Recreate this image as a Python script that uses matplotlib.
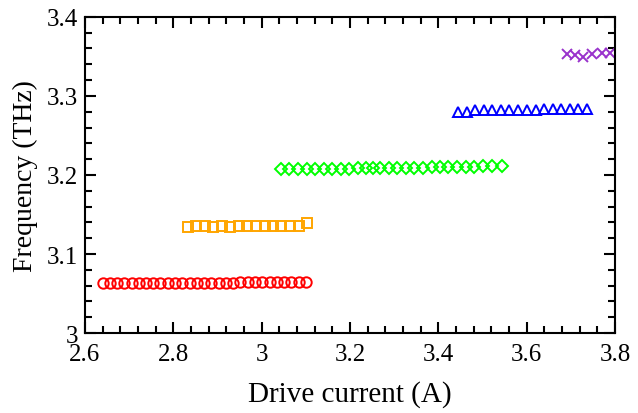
import numpy as np
import matplotlib
matplotlib.use("Agg")
import matplotlib.pyplot as plt
from matplotlib.ticker import MultipleLocator

# red circles
x_red = [2.640, 2.656, 2.673, 2.689, 2.706, 2.722, 2.739, 2.755, 2.771, 2.788,
         2.804, 2.821, 2.837, 2.854, 2.870, 2.886, 2.903, 2.919, 2.936, 2.952,
         2.969, 2.985, 3.001, 3.018, 3.034, 3.051, 3.067, 3.084, 3.100]
y_red = [3.063, 3.063, 3.063, 3.063, 3.063, 3.063, 3.063, 3.063, 3.063, 3.063,
         3.063, 3.063, 3.063, 3.063, 3.063, 3.063, 3.063, 3.063, 3.063, 3.064,
         3.064, 3.064, 3.064, 3.064, 3.064, 3.064, 3.064, 3.064, 3.064]

# orange squares
x_orange = [2.833, 2.852, 2.872, 2.891, 2.910, 2.929, 2.949, 2.968, 2.987, 3.007,
            3.026, 3.045, 3.064, 3.084, 3.103]
y_orange = [3.134, 3.135, 3.135, 3.134, 3.136, 3.134, 3.135, 3.135, 3.136, 3.135,
            3.135, 3.135, 3.135, 3.135, 3.139]

# green diamonds
x_green = [3.044, 3.063, 3.082, 3.102, 3.121, 3.141, 3.160, 3.179, 3.198, 3.218,
           3.237, 3.253, 3.268, 3.288, 3.307, 3.326, 3.346, 3.365, 3.385, 3.404,
           3.423, 3.443, 3.462, 3.481, 3.501, 3.522, 3.544]
y_green = [3.208, 3.208, 3.208, 3.208, 3.208, 3.208, 3.208, 3.208, 3.208, 3.209,
           3.209, 3.209, 3.209, 3.209, 3.209, 3.209, 3.209, 3.209, 3.210, 3.210,
           3.210, 3.210, 3.210, 3.210, 3.211, 3.211, 3.211]

# blue triangles
x_blue = [3.444, 3.464, 3.483, 3.503, 3.522, 3.542, 3.561, 3.581, 3.600, 3.620,
          3.639, 3.659, 3.678, 3.698, 3.717, 3.737]
y_blue = [3.280, 3.280, 3.282, 3.282, 3.282, 3.282, 3.282, 3.282, 3.282, 3.282,
          3.283, 3.283, 3.283, 3.284, 3.283, 3.283]

# purple crosses
x_purple = [3.691, 3.709, 3.727, 3.748, 3.770, 3.789]
y_purple = [3.353, 3.352, 3.349, 3.353, 3.354, 3.354]

plt.rcParams['font.family'] = ['Liberation Serif', 'DejaVu Serif']

fig = plt.figure(figsize=(6.38, 4.14), dpi=100)
ax = fig.add_axes([0.133, 0.193, 0.831, 0.764])

mew = 1.4
ax.plot(x_red, y_red, 'o', mfc='none', mec='#ff0000', ms=7.5, mew=mew)
ax.plot(x_orange, y_orange, 's', mfc='none', mec='#ffa500', ms=7.5, mew=mew)
ax.plot(x_green, y_green, 'D', mfc='none', mec='#00ff00', ms=6, mew=mew)
ax.plot(x_blue, y_blue, '^', mfc='none', mec='#0000ff', ms=7.5, mew=mew)
ax.plot(x_purple, y_purple, 'x', color='#9932cc', ms=7, mew=mew)

ax.set_xlim(2.6, 3.8)
ax.set_ylim(3.0, 3.4)
ax.xaxis.set_minor_locator(MultipleLocator(0.04))
ax.yaxis.set_minor_locator(MultipleLocator(0.02))
ax.set_xticks([2.6, 2.8, 3.0, 3.2, 3.4, 3.6, 3.8])
ax.set_xticklabels(['2.6', '2.8', '3', '3.2', '3.4', '3.6', '3.8'])
ax.set_yticks([3.0, 3.1, 3.2, 3.3, 3.4])
ax.set_yticklabels(['3', '3.1', '3.2', '3.3', '3.4'])

ax.tick_params(which='both', direction='in', top=True, right=True, labelsize=18, width=1.5)
ax.tick_params(which='major', length=8)
ax.tick_params(which='minor', length=5)
ax.tick_params(axis='x', pad=7)
ax.tick_params(axis='y', pad=5)
for s in ax.spines.values():
    s.set_linewidth(1.5)

ax.set_xlabel('Drive current (A)', fontsize=21, labelpad=11)
ax.set_ylabel('Frequency (THz)', fontsize=20, labelpad=6)

fig.savefig('out.png', dpi=100)
